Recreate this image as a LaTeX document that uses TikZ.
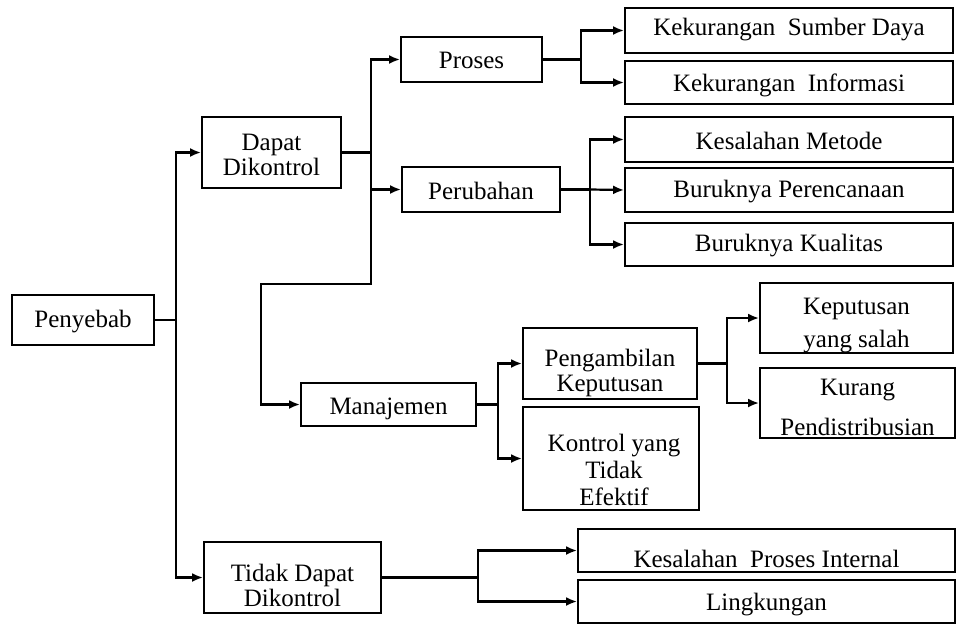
\documentclass[tikz,border=0pt]{standalone}
\usepackage{fontspec}
\setmainfont{Liberation Serif}
\usetikzlibrary{arrows.meta}
\begin{document}
\begin{tikzpicture}[x=1pt,y=-1pt,
  box/.style={draw, line width=1.8pt, inner sep=0pt},
  txt/.style={align=center, inner sep=0pt, font=\fontsize{25}{25}\selectfont},
  wire/.style={line width=2.2pt},
  link/.style={line width=2.2pt, -{Latex[length=11pt,width=9pt]}}]
\fill[white] (0,0) rectangle (957,625);
\useasboundingbox (0,0) rectangle (957,625);

% boxes
\node[box, minimum width=142pt, minimum height=50pt] (pen)    at (83,320)     {};
\node[box, minimum width=139pt, minimum height=71pt] (dapat)  at (271.5,152.5) {};
\node[box, minimum width=177pt, minimum height=71pt] (tidak)  at (292.5,577.5) {};
\node[box, minimum width=141pt, minimum height=45pt] (proses) at (471.5,59.5)  {};
\node[box, minimum width=158pt, minimum height=45pt] (perub)  at (481,189.5)   {};
\node[box, minimum width=175pt, minimum height=43pt] (manaj)  at (388.5,404.5) {};
\node[box, minimum width=328pt, minimum height=45pt] (ksd)    at (789,30.5)    {};
\node[box, minimum width=328pt, minimum height=43pt] (ki)     at (789,82.5)    {};
\node[box, minimum width=328pt, minimum height=45pt] (km)     at (789,139.5)   {};
\node[box, minimum width=328pt, minimum height=44pt] (bp)     at (789,190)     {};
\node[box, minimum width=328pt, minimum height=43pt] (bk)     at (789,244.5)   {};
\node[box, minimum width=174pt, minimum height=71pt] (peng)   at (610,363.5)   {};
\node[box, minimum width=176pt, minimum height=103pt] (kontrol) at (611,458.5) {};
\node[box, minimum width=193pt, minimum height=70pt] (kys)    at (856.5,318)   {};
\node[box, minimum width=195pt, minimum height=70pt] (kp)     at (857.5,403)   {};
\node[box, minimum width=377pt, minimum height=43pt] (kpi)    at (766.5,550.5) {};
\node[box, minimum width=377pt, minimum height=43pt] (ling)   at (766.5,601.5) {};

% labels
\node[txt] (tpen)    at (83,322)      {Penyebab};
\node[txt] (tdapat)  at (271.5,155)   {Dapat\\Dikontrol};
\node[txt] (ttidak)  at (292.5,585)   {Tidak Dapat\\Dikontrol};
\node[txt] (tproses) at (471.5,60)    {Proses};
\node[txt] (tperub)  at (481,191)     {Perubahan};
\node[txt] (tmanaj)  at (388.5,409)   {Manajemen};
\node[txt] (tksd)    at (789,30)      {Kekurangan\ \ Sumber Daya};
\node[txt] (tki)     at (789,85)      {Kekurangan\ \ Informasi};
\node[txt] (tkm)     at (789,141)     {Kesalahan Metode};
\node[txt] (tbp)     at (789,192)     {Buruknya Perencanaan};
\node[txt] (tbk)     at (789,246)     {Buruknya Kualitas};
\node[txt] (tpeng)   at (610,373)     {Pengambilan\\Keputusan};
\node[txt, font=\fontsize{25}{27}\selectfont] (tkontrol) at (614,470) {Kontrol yang\\Tidak\\Efektif};
\node[txt, font=\fontsize{25}{33}\selectfont] (tkys) at (856.5,326) {Keputusan\\yang salah};
\node[txt, font=\fontsize{25}{40}\selectfont] (tkp)  at (857.5,407) {Kurang\\Pendistribusian};
\node[txt] (tkpi)    at (766.5,559)   {Kesalahan\ \ Proses Internal};
\node[txt] (tling)   at (766.5,605)   {Lingkungan};

% junctions
\coordinate (j0) at (176,320);
\coordinate (j1) at (371,152.5);
\coordinate (j1a) at (371,284);
\coordinate (j1b) at (261,284);
\coordinate (j2) at (581,59.5);
\coordinate (j3) at (590,189.5);
\coordinate (j4) at (498,404.5);
\coordinate (j5) at (727,363.5);
\coordinate (j6) at (478,577.5);

% connectors
\draw[wire] (pen.east) -- (j0);
\draw[link] (j0) |- (dapat.west);
\draw[link] (j0) |- (tidak.west);

\draw[wire] (dapat.east) -- (j1);
\draw[link] (j1) |- (proses.west);
\draw[link] (j1) |- (perub.west);
\draw[link] (j1) -- (j1a) -- (j1b) |- (manaj.west);

\draw[wire] (proses.east) -- (j2);
\draw[link] (j2) |- (ksd.west);
\draw[link] (j2) |- (ki.west);

\draw[wire] (perub.east) -- (j3);
\draw[link] (j3) |- (km.west);
\draw[link] (j3) -- (bp.west);
\draw[link] (j3) |- (bk.west);

\draw[wire] (manaj.east) -- (j4);
\draw[link] (j4) |- (peng.west);
\draw[link] (j4) |- (kontrol.west);

\draw[wire] (peng.east) -- (j5);
\draw[link] (j5) |- (kys.west);
\draw[link] (j5) |- (kp.west);

\draw[wire] (tidak.east) -- (j6);
\draw[link] (j6) |- (kpi.west);
\draw[link] (j6) |- (ling.west);
\end{tikzpicture}
\end{document}
